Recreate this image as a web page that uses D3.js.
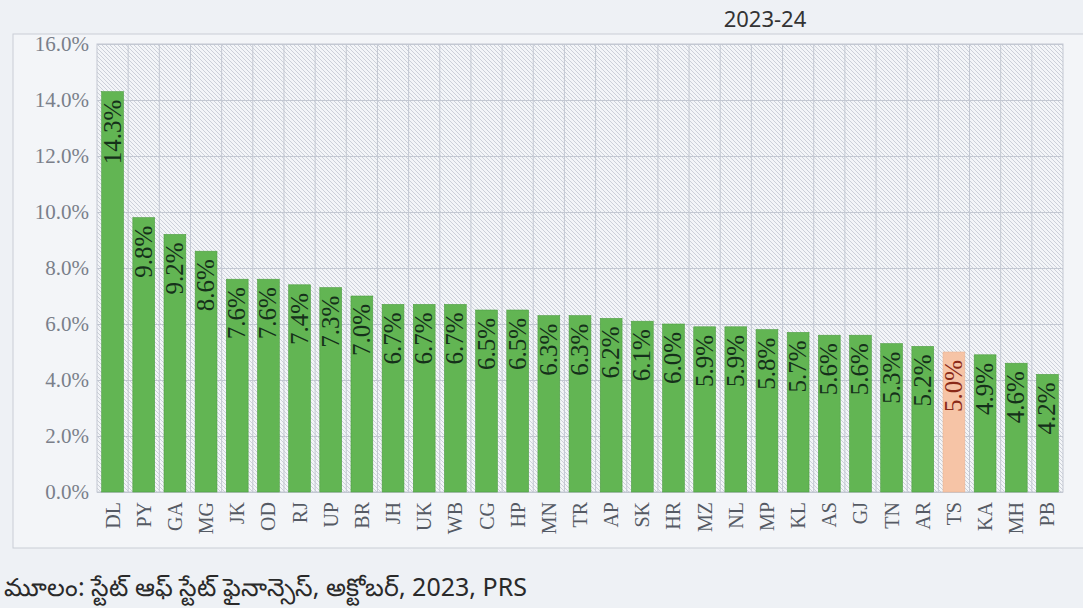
<!DOCTYPE html>
<html>
<head>
<meta charset="utf-8">
<script src="https://cdn.jsdelivr.net/npm/d3@7"></script>
<style>
  body { margin: 0; background: #eef1f5; }
  svg { display: block; }
</style>
</head>
<body>
<div id="chart"></div>
<script>
// states, in the order they appear on the chart
var states = ["DL", "PY", "GA", "MG", "JK", "OD", "RJ", "UP", "BR", "JH", "UK", "WB", "CG", "HP",
  "MN", "TR", "AP", "SK", "HR", "MZ", "NL", "MP", "KL", "AS", "GJ", "TN", "AR", "TS", "KA", "MH", "PB"];
var values = [14.3, 9.8, 9.2, 8.6, 7.6, 7.6, 7.4, 7.3, 7.0, 6.7, 6.7, 6.7, 6.5, 6.5,
  6.3, 6.3, 6.2, 6.1, 6.0, 5.9, 5.9, 5.8, 5.7, 5.6, 5.6, 5.3, 5.2, 5.0, 4.9, 4.6, 4.2];
var highlight = ["TS"];
var yTicks = [0, 2, 4, 6, 8, 10, 12, 14, 16];
var titleText = "2023-24";
var sourceText = "మూలం: స్టేట్ ఆఫ్ స్టేట్ ఫైనాన్సెస్, అక్టోబర్, 2023, PRS";

var data = states.map(function(s, i) { return { state: s, value: values[i] }; });

var W = 1083, H = 608;
var margin = { top: 44, right: 20, bottom: 116, left: 97 },
  width = W - margin.left - margin.right,
  height = H - margin.top - margin.bottom;

var svg = d3.select("#chart").append("svg")
  .attr("width", W)
  .attr("height", H);

// hatch fill for the plot background
var defs = svg.append("defs");
defs.append("pattern")
  .attr("id", "hatch")
  .attr("patternUnits", "userSpaceOnUse")
  .attr("width", 4)
  .attr("height", 4)
  .append("path")
  .attr("d", "M0,0 L4,4 M-1,3 L1,5 M3,-1 L5,1")
  .attr("stroke", "#c2c7d0")
  .attr("stroke-width", 0.8);

// outer frame of the figure
svg.append("rect")
  .attr("x", 13).attr("y", 34)
  .attr("width", W + 10).attr("height", 514)
  .attr("fill", "#f3f5f8")
  .attr("stroke", "#c9ced6");

// title (only the year part is visible in the source)
svg.append("text")
  .attr("x", 765).attr("y", 27)
  .attr("text-anchor", "middle")
  .attr("font-family", "Noto Sans, sans-serif")
  .attr("font-size", 22)
  .attr("fill", "#333")
  .text(titleText);

var g = svg.append("g")
  .attr("transform", "translate(" + margin.left + "," + margin.top + ")");

var x = d3.scaleBand()
  .domain(states)
  .range([0, width])
  .paddingInner(0.3)
  .paddingOuter(0.15);

var y = d3.scaleLinear()
  .domain([0, 16])
  .range([height, 0]);

g.append("rect")
  .attr("width", width)
  .attr("height", height)
  .attr("fill", "url(#hatch)")
  .attr("stroke", "#c3c8d2");

// vertical grid lines between categories
var bounds = d3.range(1, states.length).map(function(i) { return i * x.step(); });
g.append("g")
  .selectAll("line")
  .data(bounds)
  .join("line")
  .attr("x1", function(d) { return d; })
  .attr("x2", function(d) { return d; })
  .attr("y1", 0)
  .attr("y2", height)
  .attr("stroke", "#c3c8d2");

// y axis with horizontal grid
g.append("g")
  .attr("class", "axis axis--y")
  .call(d3.axisLeft(y)
    .tickValues(yTicks)
    .tickSize(-width)
    .tickPadding(8)
    .tickFormat(function(d) { return d.toFixed(1) + "%"; }))
  .call(function(a) {
    a.select(".domain").remove();
    a.selectAll(".tick line").attr("stroke", "#c3c8d2");
    a.selectAll(".tick text")
      .attr("font-family", "Liberation Serif, serif")
      .attr("font-size", 21)
      .attr("fill", "#7a7f8a");
  });

// bars
g.append("g")
  .selectAll("rect")
  .data(data)
  .join("rect")
  .attr("x", function(d) { return x(d.state); })
  .attr("y", function(d) { return y(d.value); })
  .attr("width", x.bandwidth())
  .attr("height", function(d) { return height - y(d.value); })
  .attr("fill", function(d) { return highlight.indexOf(d.state) >= 0 ? "#f6c4a6" : "#62b553"; })
  .attr("stroke", function(d) { return highlight.indexOf(d.state) >= 0 ? "#eab596" : "#4f9e43"; })
  .attr("stroke-width", 0.6);

// value labels, rotated inside the bar tops
g.append("g")
  .selectAll("text")
  .data(data)
  .join("text")
  .attr("transform", function(d) {
    return "translate(" + (x(d.state) + x.bandwidth() / 2 + 8) + "," + (y(d.value) + 8) + ") rotate(-90)";
  })
  .attr("text-anchor", "end")
  .attr("font-family", "Liberation Serif, serif")
  .attr("font-size", 25)
  .attr("fill", function(d) { return highlight.indexOf(d.state) >= 0 ? "#8a2a18" : "#15301a"; })
  .text(function(d) { return d.value.toFixed(1) + "%"; });

// x axis category labels
g.append("g")
  .attr("class", "axis axis--x")
  .attr("transform", "translate(0," + height + ")")
  .call(d3.axisBottom(x).tickSize(0).tickPadding(0))
  .call(function(a) {
    a.select(".domain").remove();
    a.selectAll(".tick text")
      .attr("transform", "rotate(-90)")
      .attr("text-anchor", "end")
      .attr("x", -10)
      .attr("y", 0)
      .attr("dy", "0.35em")
      .attr("font-family", "Liberation Serif, serif")
      .attr("font-size", 20)
      .attr("fill", "#555a64");
  });

// source note
svg.append("text")
  .attr("x", 4).attr("y", 596)
  .attr("font-family", "Noto Sans, sans-serif")
  .attr("font-size", 25)
  .attr("fill", "#2a2a2a")
  .text(sourceText);
</script>
</body>
</html>
